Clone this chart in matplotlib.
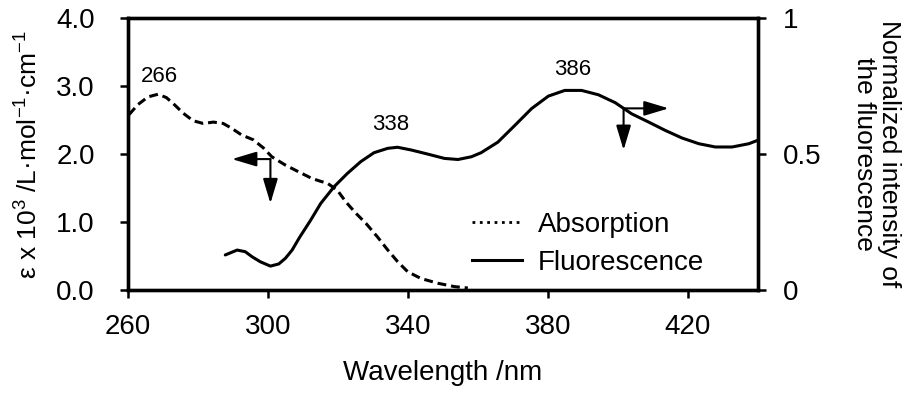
import matplotlib
matplotlib.use("Agg")
import matplotlib.pyplot as plt
from matplotlib.lines import Line2D

plt.rcParams["font.family"] = ["Liberation Sans", "DejaVu Sans"]
plt.rcParams["mathtext.fontset"] = "custom"
plt.rcParams["mathtext.rm"] = "Liberation Sans"
plt.rcParams["mathtext.it"] = "Liberation Sans:italic"

# absorption spectrum (left axis, eps x 10^3)
abs_wl = [260.3, 262.9, 265.7, 268.6, 271.0, 273.4, 275.8, 278.6, 281.5, 284.4,
          287.2, 289.6, 292.5, 295.8, 298.7, 301.1, 304.9, 308.7, 312.6, 315.0,
          317.0, 319.8, 322.2, 325.1, 328.0, 331.3, 334.2, 337.0, 339.9, 343.7,
          348.5, 353.3, 357.1]
abs_eps = [2.58, 2.73, 2.84, 2.88, 2.83, 2.72, 2.60, 2.49, 2.45, 2.47,
           2.45, 2.38, 2.28, 2.21, 2.09, 1.96, 1.84, 1.74, 1.64, 1.60,
           1.57, 1.47, 1.30, 1.13, 0.98, 0.78, 0.59, 0.42, 0.27, 0.17,
           0.10, 0.05, 0.03]

# fluorescence spectrum (right axis, normalized)
fl_wl = [287.8, 291.2, 293.5, 295.5, 297.8, 300.7, 303.1, 305.0, 306.9, 309.0,
         312.2, 315.1, 318.9, 322.7, 326.5, 330.3, 334.2, 337.0, 340.9, 345.6,
         350.4, 354.3, 358.1, 360.9, 365.7, 370.5, 375.3, 380.1, 384.8, 389.6,
         394.4, 399.2, 403.9, 408.7, 413.5, 418.3, 423.1, 427.8, 432.6, 437.4, 440.0]
fl_int = [0.129, 0.147, 0.141, 0.122, 0.104, 0.088, 0.096, 0.117, 0.147, 0.193,
          0.257, 0.319, 0.380, 0.429, 0.472, 0.505, 0.521, 0.525, 0.515, 0.500,
          0.484, 0.480, 0.490, 0.505, 0.544, 0.605, 0.667, 0.713, 0.734, 0.734,
          0.718, 0.689, 0.648, 0.618, 0.587, 0.559, 0.538, 0.526, 0.526, 0.538, 0.551]

peak_labels = ["266", "338", "386"]
peak_pos = [(268.9, 3.14), (335.1, 2.44), (387.0, 3.25)]

xticks = [260, 300, 340, 380, 420]
left_ticks = [0.0, 1.0, 2.0, 3.0, 4.0]
right_ticks = [0, 0.5, 1]
right_ticklabels = ["0", "0.5", "1"]

fig = plt.figure(figsize=(9.16, 3.93), dpi=100)
ax = fig.add_axes([0.1397, 0.262, 0.6878, 0.692])
ax2 = ax.twinx()

ax.plot(abs_wl, abs_eps, color="black", lw=2.2, linestyle=(0, (2.9, 1.6)),
        dash_joinstyle="round")
ax2.plot(fl_wl, fl_int, color="black", lw=2.2, solid_joinstyle="round",
         solid_capstyle="round")

ax.set_xlim(260, 440)
ax.set_ylim(0, 4.0)
ax2.set_ylim(0, 1)
ax.set_xticks(xticks)
ax.set_yticks(left_ticks)
ax.set_yticklabels([f"{v:.1f}" for v in left_ticks])
ax2.set_yticks(right_ticks)
ax2.set_yticklabels(right_ticklabels)

for a in (ax, ax2):
    for s in a.spines.values():
        s.set_linewidth(2.4)
ax.tick_params(axis="x", direction="out", length=6, width=1.8, labelsize=20, pad=11)
ax.tick_params(axis="y", direction="out", length=6, width=1.8, labelsize=20, pad=18)
ax2.tick_params(axis="y", direction="out", length=6, width=1.8, labelsize=20, pad=12)

ax.set_xlabel("Wavelength /nm", fontsize=20, labelpad=15)
ax.set_ylabel(r"ε x 10$^{3}$ /L·mol$^{-1}$·cm$^{-1}$", fontsize=19, labelpad=10)
ax2.set_ylabel("Normalized intensity of\nthe fluorescence", fontsize=19,
               rotation=270, va="bottom", labelpad=22, linespacing=1.05)

for txt, (x, y) in zip(peak_labels, peak_pos):
    ax.text(x, y, txt, fontsize=16, ha="center", va="center")

# arrows pointing to the axis each curve belongs to
arrow_kw = dict(arrowstyle="-|>,head_length=1.5,head_width=0.45", color="black",
                lw=1.5, shrinkA=0, shrinkB=0, mutation_scale=10)
ax.annotate("", xy=(289.7, 1.926), xytext=(300.7, 1.926), arrowprops=arrow_kw)
ax.annotate("", xy=(300.7, 1.275), xytext=(300.7, 1.926), arrowprops=arrow_kw)
ax.annotate("", xy=(414.5, 2.672), xytext=(401.6, 2.672), arrowprops=arrow_kw)
ax.annotate("", xy=(401.6, 2.059), xytext=(401.6, 2.672), arrowprops=arrow_kw)

handles = [Line2D([], [], color="black", lw=2, linestyle=":"),
           Line2D([], [], color="black", lw=2.2)]
ax.legend(handles, ["Absorption", "Fluorescence"], loc="center left",
          bbox_to_anchor=(0.546, 0.17), frameon=False, fontsize=20,
          handlelength=1.8, handletextpad=0.58, labelspacing=0.45,
          borderpad=0, borderaxespad=0)

fig.savefig("out.png", dpi=100)
